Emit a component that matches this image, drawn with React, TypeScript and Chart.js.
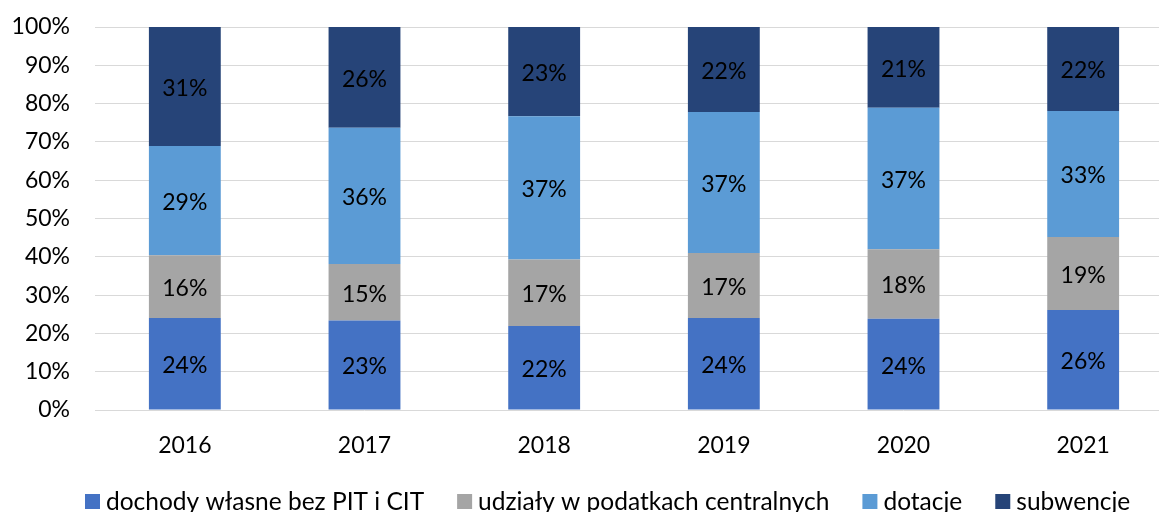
import React, { useEffect, useRef } from "react";
import { Chart, registerables } from "chart.js";

Chart.register(...registerables);

const years = ["2016", "2017", "2018", "2019", "2020", "2021"];
const seriesNames = [
  "dochody własne bez PIT i CIT",
  "udziały w podatkach centralnych",
  "dotacje",
  "subwencje",
];
const ownIncome = [24.0, 23.4, 21.9, 24.0, 23.8, 26.1];
const taxShares = [16.4, 14.7, 17.4, 17.0, 18.2, 19.1];
const grants = [28.5, 35.6, 37.4, 36.8, 36.9, 32.9];
const subsidies = [31.1, 26.3, 23.3, 22.2, 21.1, 21.9];
const colors = ["#4472C4", "#A5A5A5", "#5B9BD5", "#264478"];
const yTicks = [0, 10, 20, 30, 40, 50, 60, 70, 80, 90, 100];

const FONT = "Lato, 'Open Sans', sans-serif";
const TICK_SIZE = 23;
const LEGEND_SIZE = 24.5;

const labelPlugin = {
  id: "segLabels",
  afterDatasetsDraw(chart: any) {
    const ctx = chart.ctx;
    ctx.save();
    ctx.font = `${TICK_SIZE}px ${FONT}`;
    ctx.fillStyle = "#000";
    ctx.textAlign = "center";
    ctx.textBaseline = "middle";
    chart.data.datasets.forEach((ds: any, di: number) => {
      const meta = chart.getDatasetMeta(di);
      meta.data.forEach((bar: any, i: number) => {
        const v = ds.data[i];
        const p = bar.getProps(["x", "y", "base"], true);
        ctx.fillText(Math.round(v) + "%", p.x, (p.y + p.base) / 2 + 2);
      });
    });
    ctx.restore();
  },
};

const legendPlugin = {
  id: "customLegend",
  afterDraw(chart: any) {
    const ctx = chart.ctx;
    ctx.save();
    ctx.font = `${LEGEND_SIZE}px ${FONT}`;
    ctx.textBaseline = "middle";
    ctx.textAlign = "left";
    let x = 85;
    const y = 501;
    chart.data.datasets.forEach((ds: any) => {
      ctx.fillStyle = ds.backgroundColor;
      ctx.fillRect(x, y - 7, 15, 15);
      ctx.fillStyle = "#000";
      ctx.fillText(ds.label, x + 21, y + 1);
      x += 21 + ctx.measureText(ds.label).width + 33;
    });
    ctx.restore();
  },
};

export default function App() {
  const ref = useRef<HTMLCanvasElement>(null);
  useEffect(() => {
    document.body.style.margin = "0";
    const values = [ownIncome, taxShares, grants, subsidies];
    const chart = new Chart(ref.current!, {
      type: "bar",
      data: {
        labels: years,
        datasets: seriesNames.map((name, i) => ({
          label: name,
          data: values[i],
          backgroundColor: colors[i],
          borderWidth: 0,
          categoryPercentage: 1,
          barPercentage: 0.4,
        })),
      },
      options: {
        animation: false,
        responsive: false,
        devicePixelRatio: 1,
        layout: { padding: { top: 27, right: 7, left: 0, bottom: 42 } },
        plugins: {
          legend: { display: false },
          tooltip: { enabled: false },
        },
        scales: {
          x: {
            stacked: true,
            grid: { display: false, drawTicks: false },
            border: { display: false },
            ticks: {
              color: "#000",
              font: { family: FONT, size: TICK_SIZE },
              padding: 22,
            },
            afterFit(scale: any) {
              scale.height = 60;
              scale.paddingLeft = 0;
              scale.paddingRight = 0;
            },
          },
          y: {
            stacked: true,
            min: 0,
            max: 100,
            afterBuildTicks(scale: any) {
              scale.ticks = yTicks.map((v) => ({ value: v }));
            },
            grid: { color: "#D9D9D9", lineWidth: 1, drawTicks: false },
            border: { display: false },
            ticks: {
              color: "#000",
              font: { family: FONT, size: TICK_SIZE },
              padding: 25,
              callback: (v: any) => v + "%",
            },
            afterFit(scale: any) {
              scale.width = 95;
              scale.paddingTop = 0;
              scale.paddingBottom = 0;
            },
          },
        },
      },
      plugins: [labelPlugin, legendPlugin],
    });
    return () => chart.destroy();
  }, []);
  return (
    <div style={{ width: 1159, height: 512, overflow: "hidden", position: "relative" }}>
      <canvas ref={ref} width={1180} height={512} style={{ display: "block" }} />
    </div>
  );
}
